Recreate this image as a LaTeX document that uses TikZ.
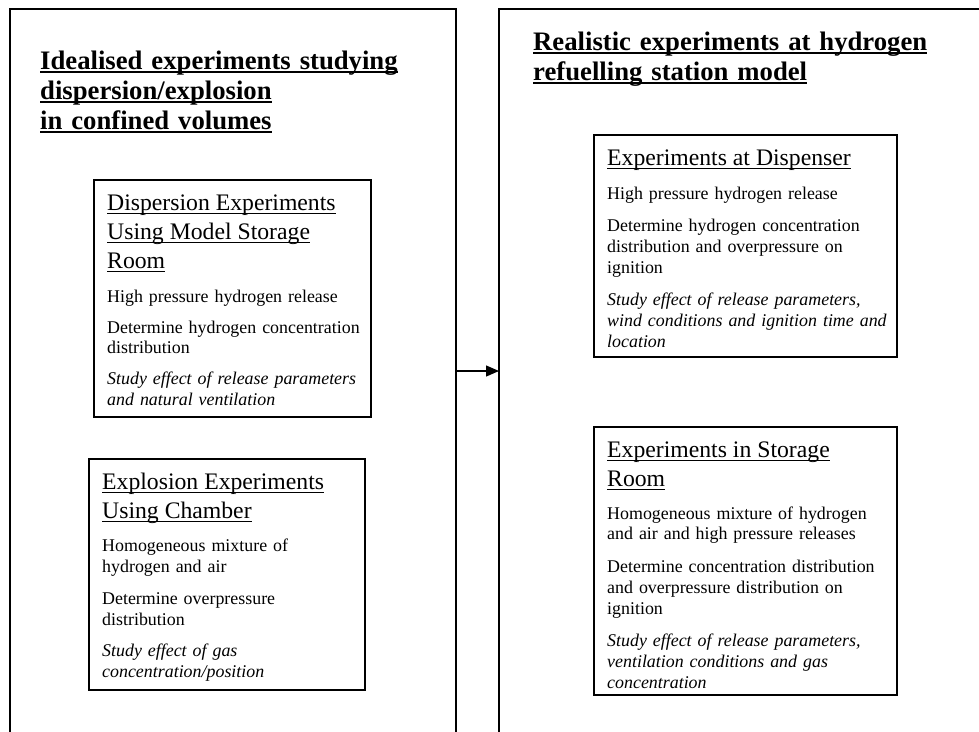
\documentclass[tikz,border=0pt]{standalone}
\usepackage{fontspec}
\setmainfont{Liberation Serif}
\usetikzlibrary{arrows.meta}

% underline at a fixed depth, as a word processor does
\newlength{\undlwd}
\newcommand{\undl}[2][0.05em]{\leavevmode\settowidth{\undlwd}{#2}\rlap{\rule[-0.13em]{\undlwd}{#1}}#2}
% paragraph break inside the boxes
\newlength{\gapsize}
\newcommand{\gap}{\par\vspace{\gapsize}}
\newcommand{\headfont}{\fontsize{23.7}{29}\selectfont}

\tikzset{
  bigbox/.style={draw, line width=2.2pt, anchor=north west, inner sep=0pt, outer sep=0pt, minimum height=800pt},
  expbox/.style={draw, line width=2.6pt, anchor=north west, inner sep=0pt, outer sep=0pt},
  exptext/.style={anchor=north west, inner sep=0pt, align=left, font=\fontsize{17.9}{20.8}\selectfont,
    execute at begin node={\setlength{\gapsize}{#1}}},
  exptext/.default=11.7pt,
  titletext/.style={anchor=north west, inner sep=0pt, align=left, text width=420pt, font=\bfseries\fontsize{26.7}{30}\selectfont}
}

\begin{document}
\begin{tikzpicture}[x=1pt, y=-1pt]
  \useasboundingbox (0,0) rectangle (979,731);
  \clip (0,0) rectangle (979,731);

  % the two big frames
  \node[bigbox, minimum width=446pt] (idealbox) at (10,9) {};
  \node[bigbox, minimum width=520pt] (realbox) at (499,9) {};
  \coordinate (arrowmark) at (0,371);
  \draw[line width=1.2pt, -{Triangle[length=13pt, width=11pt]}] (idealbox.east |- arrowmark) -- (realbox.west |- arrowmark);

  % titles
  \node[titletext] (idealtitle) at (40,51) {\undl[0.07em]{Idealised experiments studying}\\
    \undl[0.07em]{dispersion/explosion}\\ \undl[0.07em]{in confined volumes}};
  \node[titletext] (realtitle) at (533,32) {\undl[0.07em]{Realistic experiments at hydrogen}\\
    \undl[0.07em]{refuelling station model}};

  % left column
  \node[expbox, minimum width=277pt, minimum height=237pt] (disp) at (94,180) {};
  \node[exptext=10.2pt, text width=270pt] (disptext) at ([shift={(13,15)}]disp.north west) {%
    {\headfont \undl{Dispersion Experiments}\\ \undl{Using Model Storage}\\ \undl{Room}\par}\vspace{12.5pt}
    High pressure hydrogen release\gap
    Determine hydrogen concentration\\ distribution\gap
    {\itshape Study effect of release parameters\\ and natural ventilation}};

  \node[expbox, minimum width=276pt, minimum height=231pt] (expl) at (89,459) {};
  \node[exptext=10.7pt, text width=270pt] (expltext) at ([shift={(13,14)}]expl.north west) {%
    {\headfont \undl{Explosion Experiments}\\ \undl{Using Chamber}\par}\vspace{12.5pt}
    Homogeneous mixture of\\ hydrogen and air\gap
    Determine overpressure\\ distribution\gap
    {\itshape Study effect of gas\\ concentration/position}};

  % right column
  \node[expbox, minimum width=303pt, minimum height=222pt] (dispenser) at (594,135) {};
  \node[exptext, text width=285pt] (dispensertext) at ([shift={(13,15)}]dispenser.north west) {%
    {\headfont \undl{Experiments at Dispenser}\par}\vspace{12.5pt}
    High pressure hydrogen release\gap
    Determine hydrogen concentration\\ distribution and overpressure on\\ ignition\gap
    {\itshape Study effect of release parameters,\\ wind conditions and ignition time and\\ location}};

  \node[expbox, minimum width=303pt, minimum height=268pt] (store) at (594,427) {};
  \node[exptext, text width=285pt] (storetext) at ([shift={(13,15)}]store.north west) {%
    {\headfont \undl{Experiments in Storage}\\ \undl{Room}\par}\vspace{11.5pt}
    Homogeneous mixture of hydrogen\\ and air and high pressure releases\gap
    Determine concentration distribution\\ and overpressure distribution on\\ ignition\gap
    {\itshape Study effect of release parameters,\\ ventilation conditions and gas\\ concentration}};
\end{tikzpicture}
\end{document}
